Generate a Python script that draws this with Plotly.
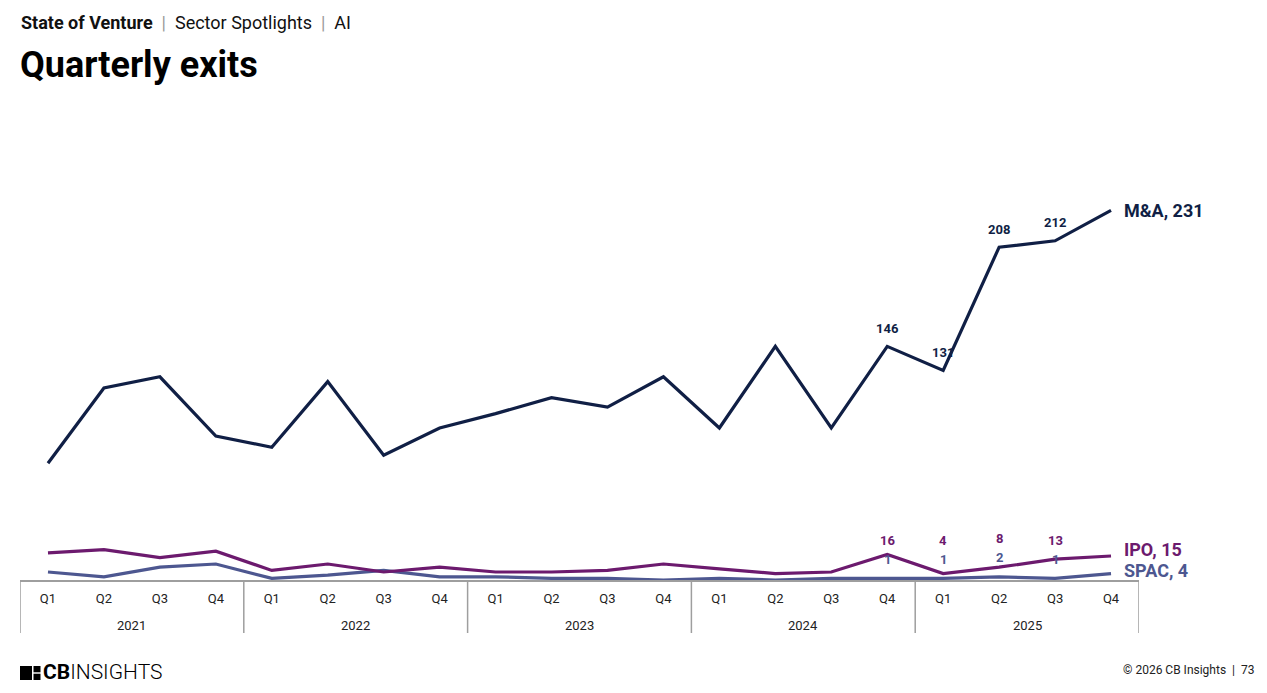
import plotly.graph_objects as go

years = ["2021", "2022", "2023", "2024", "2025"]
quarters = ["Q1", "Q2", "Q3", "Q4"]

ma = [73, 120, 127, 90, 83, 124, 78, 95, 104, 114, 108, 127, 95, 146, 95, 146, 131, 208, 212, 231]
ipo = [17, 19, 14, 18, 6, 10, 5, 8, 5, 5, 6, 10, 7, 4, 5, 16, 4, 8, 13, 15]
spac = [5, 2, 8, 10, 1, 3, 6, 2, 2, 1, 1, 0, 1, 0, 1, 1, 1, 2, 1, 4]

label_start = 15  # data labels shown from 2024 Q4 onward (except last point)

C_MA = "#101f45"
C_IPO = "#6c1a6e"
C_SPAC = "#4d5790"
FONT = "Roboto"

cats = [f"{y} {q}" for y in years for q in quarters]
qlabels = [q for y in years for q in quarters]

fig = go.Figure()
for name, vals, col in [("SPAC", spac, C_SPAC), ("IPO", ipo, C_IPO), ("M&A", ma, C_MA)]:
    fig.add_trace(go.Scatter(
        x=cats, y=vals, mode="lines", name=name,
        line=dict(color=col, width=3.2), hoverinfo="skip"))

ann = []
n = len(ma)
# end labels
for name, vals, col, ys in [("M&A", ma, C_MA, 0), ("IPO", ipo, C_IPO, 7), ("SPAC", spac, C_SPAC, 3)]:
    ann.append(dict(x=cats[-1], y=vals[-1], xref="x", yref="y", text=f"<b>{name}, {vals[-1]}</b>",
                    showarrow=False, xanchor="left", xshift=11, yshift=ys,
                    font=dict(family=FONT, size=18, color=col)))
# data labels
for i in range(label_start, n - 1):
    ann.append(dict(x=cats[i], y=ma[i], xref="x", yref="y", text=f"<b>{ma[i]}</b>", showarrow=False,
                    yshift=18, font=dict(family=FONT, size=13, color=C_MA)))
    ann.append(dict(x=cats[i], y=spac[i], xref="x", yref="y", text=f"<b>{ipo[i]}</b>", showarrow=False,
                    yshift=38, font=dict(family=FONT, size=13, color=C_IPO)))
    ann.append(dict(x=cats[i], y=spac[i], xref="x", yref="y", text=f"<b>{spac[i]}</b>", showarrow=False,
                    yshift=19, font=dict(family=FONT, size=13, color=C_SPAC)))

# year labels and dividers
nq = len(quarters)
shapes = []
for k, y in enumerate(years):
    ann.append(dict(x=k * nq + (nq - 1) / 2, y=0, xref="x", yref="paper", text=y, showarrow=False,
                    yanchor="middle", yshift=-45, font=dict(family=FONT, size=13, color="#222222")))
for k in range(len(years) + 1):
    shapes.append(dict(type="line", xref="x", yref="paper", x0=k * nq - 0.5, x1=k * nq - 0.5,
                       y0=0, y1=-0.1325, line=dict(color="#9e9e9e", width=1.5)))

# header
ann.append(dict(x=0, y=1, xref="paper", yref="paper", xanchor="left", yanchor="middle",
                xshift=-1, yshift=158, showarrow=False,
                text="<b>State of Venture</b>  <span style='color:#9a9a9a'>|</span>  Sector Spotlights  <span style='color:#9a9a9a'>|</span>  AI",
                font=dict(family=FONT, size=18, color="#111111")))
ann.append(dict(x=0, y=1, xref="paper", yref="paper", xanchor="left", yanchor="middle",
                xshift=-2, yshift=115, showarrow=False, text="<b>Quarterly exits</b>",
                font=dict(family=FONT, size=36, color="#000000")))
# footer
ann.append(dict(x=0, y=0, xref="paper", yref="paper", xanchor="left", yanchor="middle",
                xshift=21, yshift=-92, showarrow=False, text="<b>CB</b>INSIGHTS",
                font=dict(family=FONT, size=21, color="#000000", weight=300)))
ann.append(dict(x=1, y=0, xref="paper", yref="paper", xanchor="right", yanchor="middle",
                xshift=117, yshift=-90, showarrow=False, text="© 2026 CB Insights  |  73",
                font=dict(family=FONT, size=12, color="#222222")))


# logo icon (paper coords: x px = 20 + 1119*xp, y px = 580 - 400*yp)
def px2x(p):
    return (p - 20) / 1119.0


def py2y(p):
    return (580 - p) / 400.0


def box(x0, x1, y0, y1):
    return dict(type="rect", xref="paper", yref="paper", x0=px2x(x0), x1=px2x(x1),
                y0=py2y(y1), y1=py2y(y0), fillcolor="#000000", line=dict(width=0))


shapes += [box(20, 32, 666, 680), box(33.5, 40.5, 666, 672.3), box(33.5, 40.5, 673.7, 680)]

fig.update_layout(
    width=1267, height=693,
    margin=dict(l=20, r=128, t=180, b=113),
    paper_bgcolor="white", plot_bgcolor="white",
    showlegend=False,
    annotations=ann, shapes=shapes,
    font=dict(family=FONT, size=13, color="#222222"),
    xaxis=dict(type="category", range=[-0.5, 19.5], showgrid=False, zeroline=False,
               showline=True, linecolor="#9e9e9e", linewidth=1.5,
               tickmode="array", tickvals=cats, ticktext=qlabels, ticklabelstandoff=6,
               tickfont=dict(family=FONT, size=13, color="#222222"), ticks=""),
    yaxis=dict(range=[0, 250], visible=False, showgrid=False, zeroline=False),
)

fig.write_html("out.html", config={"displayModeBar": False},
               post_script="document.body.style.margin='0';document.body.style.overflow='hidden';")
